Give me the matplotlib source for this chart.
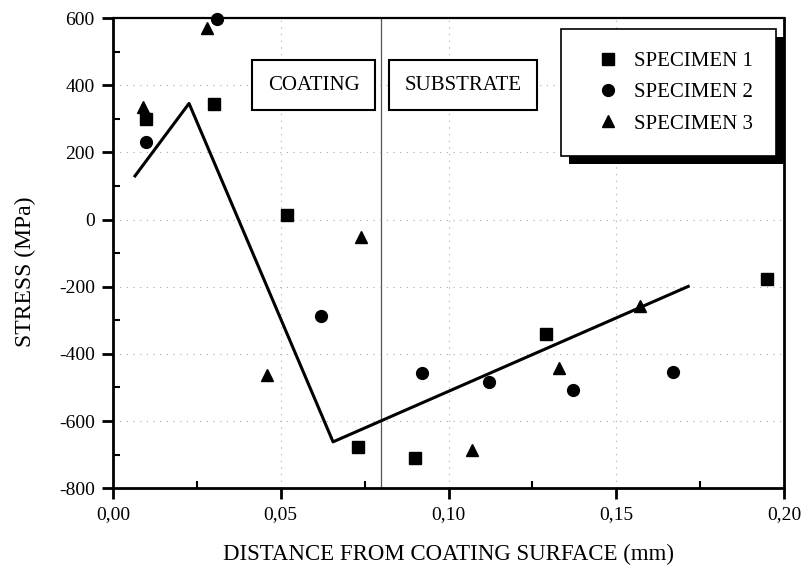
import matplotlib
matplotlib.use('Agg')
import matplotlib.pyplot as plt
from matplotlib.ticker import MultipleLocator, FuncFormatter
from matplotlib.patches import Rectangle
from matplotlib.transforms import IdentityTransform

plt.rcParams['font.family'] = ['Liberation Serif', 'DejaVu Serif']
plt.rcParams['axes.unicode_minus'] = False

# data
spec1_x = [0.010, 0.030, 0.052, 0.073, 0.090, 0.129, 0.195]
spec1_y = [300, 343, 14, -678, -710, -342, -178]
spec2_x = [0.010, 0.031, 0.062, 0.092, 0.112, 0.137, 0.167]
spec2_y = [230, 598, -288, -458, -485, -508, -455]
spec3_x = [0.009, 0.028, 0.046, 0.074, 0.107, 0.133, 0.157]
spec3_y = [335, 570, -462, -52, -686, -442, -258]
trend_x = [0.0066, 0.0227, 0.0656, 0.1714]
trend_y = [130, 346, -662, -199]
labels = ['SPECIMEN 1', 'SPECIMEN 2', 'SPECIMEN 3']
boundary = 0.08

fig = plt.figure(figsize=(8.06, 5.67), dpi=100)
ax = fig.add_axes([0.140, 0.139, 0.833, 0.829])

ax.plot(trend_x, trend_y, color='black', lw=2.2, zorder=3)
ax.axvline(boundary, color='#555555', lw=0.9, zorder=1)
ax.plot(spec1_x, spec1_y, 's', color='black', ms=8, ls='none', label=labels[0], zorder=4, clip_on=False)
ax.plot(spec2_x, spec2_y, 'o', color='black', ms=8.5, ls='none', label=labels[1], zorder=4, clip_on=False)
ax.plot(spec3_x, spec3_y, '^', color='black', ms=9, ls='none', label=labels[2], zorder=4, clip_on=False)

ax.set_xlim(0, 0.20)
ax.set_ylim(-800, 600)
ax.xaxis.set_major_locator(MultipleLocator(0.05))
ax.xaxis.set_minor_locator(MultipleLocator(0.025))
ax.yaxis.set_major_locator(MultipleLocator(200))
ax.yaxis.set_minor_locator(MultipleLocator(100))
ax.xaxis.set_major_formatter(FuncFormatter(lambda v, p: ('%.2f' % v).replace('.', ',')))
ax.yaxis.set_major_formatter(FuncFormatter(lambda v, p: '%d' % v))
ax.tick_params(which='major', direction='out', length=8, width=2, labelsize=14, pad=5)
ax.tick_params(which='minor', direction='in', length=5, width=1.5)
ax.tick_params(top=False, right=False, which='both')
ax.grid(True, which='major', ls=(0, (1, 5)), color='#aaaaaa', lw=0.8)
for s in ['left', 'bottom', 'right']:
    ax.spines[s].set_linewidth(2)
ax.spines['top'].set_linewidth(1.6)

ax.set_xlabel('DISTANCE FROM COATING SURFACE (mm)', fontsize=16.5, labelpad=15)
ax.set_ylabel('STRESS (MPa)', fontsize=17)
ax.yaxis.set_label_coords(-0.115, 0.46)

box = dict(boxstyle='square,pad=0.75', fc='white', ec='black', lw=1.5)
ax.text(0.0598, 400, 'COATING', fontsize=15, ha='center', va='center', bbox=box, zorder=5)
ax.text(0.1043, 400, 'SUBSTRATE', fontsize=15, ha='center', va='center', bbox=box, zorder=5)

leg = ax.legend(loc='upper right', bbox_to_anchor=(0.987, 0.977), fontsize=15,
                frameon=True, fancybox=False, edgecolor='black', framealpha=1,
                borderpad=1.1, labelspacing=0.55, handletextpad=0.1,
                handlelength=2.3, borderaxespad=0)
leg.get_frame().set_linewidth(1.2)
leg.set_zorder(6)

fig.canvas.draw()
bb = leg.get_window_extent()
shadow = Rectangle((bb.x0 + 8, bb.y0 - 8), bb.width, bb.height, transform=IdentityTransform(),
                   fc='black', ec='none', zorder=5.5)
ax.add_artist(shadow)

fig.savefig('out.png', dpi=100)
